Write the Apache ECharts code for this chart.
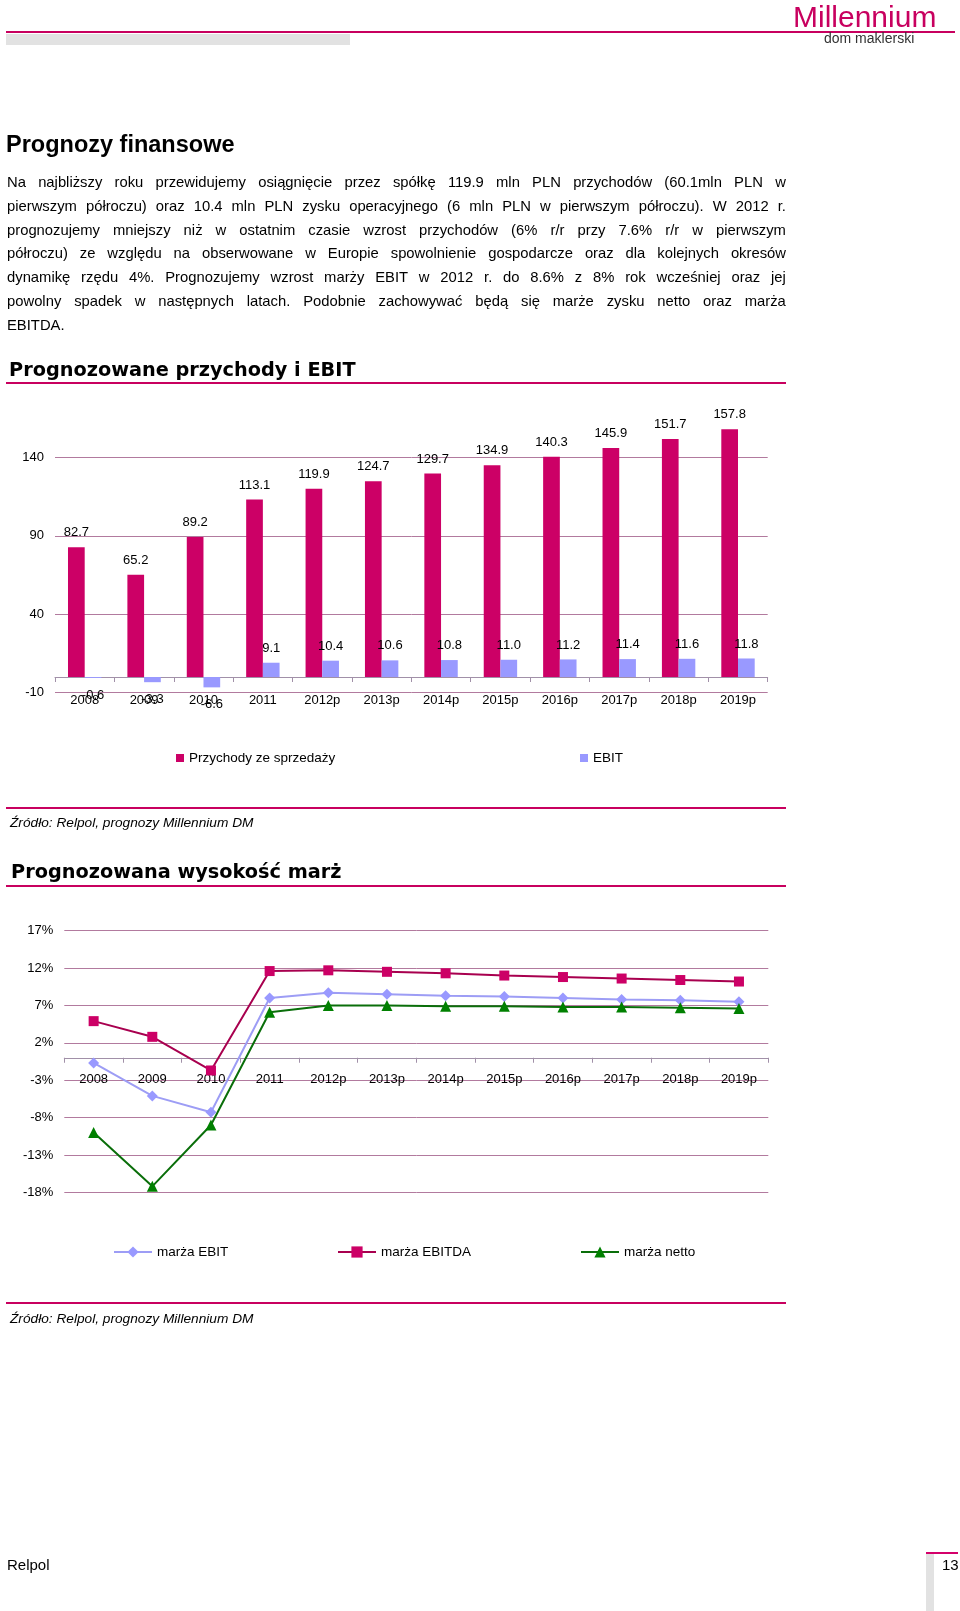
<!DOCTYPE html>
<html><head><meta charset="utf-8">
<script src="https://cdn.jsdelivr.net/npm/echarts@6/dist/echarts.min.js"></script>
<style>
html,body{margin:0;padding:0;background:#fff;}
body{width:960px;height:1611px;position:relative;overflow:hidden;font-family:"Liberation Sans",Arial,sans-serif;color:#000;}
#chart{position:absolute;left:0;top:0;width:960px;height:1611px;}
.t{position:absolute;white-space:nowrap;}
.bar{position:absolute;}
.pl{display:flex;justify-content:space-between;position:absolute;left:7px;width:779px;height:24px;line-height:24px;font-size:14.8px;white-space:nowrap;}
.pl.last{justify-content:flex-start;}
.pl.last span{margin-right:4.1px;}
.h2{font-family:"DejaVu Sans",sans-serif;font-weight:bold;font-size:19.3px;line-height:24px;height:24px;}
.src{font-style:italic;font-size:13.7px;line-height:16px;height:16px;}
</style></head>
<body>
<div id="chart"></div>

<!-- header -->
<div class="bar" style="left:6px;top:31px;width:949px;height:2px;background:#C8005F;"></div>
<div class="bar" style="left:6px;top:34px;width:344px;height:11px;background:#E2E2E2;"></div>
<div class="t" style="left:793px;top:2px;font-size:30px;line-height:30px;color:#C8005F;">Millennium</div>
<div class="t" style="left:824px;top:30px;font-size:14px;line-height:16px;color:#333;">dom maklerski</div>

<div class="t" style="left:6px;top:130px;font-size:23.5px;line-height:28px;font-weight:bold;">Prognozy finansowe</div>
<div id="para"></div>

<div class="t h2" style="left:9px;top:358px;">Prognozowane przychody i EBIT</div>
<div class="bar" style="left:6px;top:382px;width:780px;height:2px;background:#C8005F;"></div>

<div class="bar" style="left:6px;top:807px;width:780px;height:2px;background:#C8005F;"></div>
<div class="t src" style="left:10px;top:815px;">Źródło: Relpol, prognozy Millennium DM</div>

<div class="t h2" style="left:11px;top:860px;">Prognozowana wysokość marż</div>
<div class="bar" style="left:6px;top:885px;width:780px;height:2px;background:#C8005F;"></div>

<div class="bar" style="left:6px;top:1302px;width:780px;height:2px;background:#C8005F;"></div>
<div class="t src" style="left:10px;top:1311px;">Źródło: Relpol, prognozy Millennium DM</div>

<!-- footer -->
<div class="t" style="left:7px;top:1556px;font-size:15px;line-height:18px;">Relpol</div>
<div class="bar" style="left:926px;top:1552px;width:32px;height:2px;background:#D4006A;"></div>
<div class="bar" style="left:926px;top:1554px;width:8px;height:57px;background:#E2E2E2;"></div>
<div class="t" style="left:942px;top:1556px;font-size:15px;line-height:18px;">13</div>

<script>
// ---------- text ----------
const paragraphLines = [
  'Na najbliższy roku przewidujemy osiągnięcie przez spółkę 119.9 mln PLN przychodów (60.1mln PLN w',
  'pierwszym półroczu) oraz 10.4 mln PLN zysku operacyjnego (6 mln PLN w pierwszym półroczu). W 2012 r.',
  'prognozujemy mniejszy niż w ostatnim czasie wzrost przychodów (6% r/r przy 7.6% r/r w pierwszym',
  'półroczu) ze względu na obserwowane w Europie spowolnienie gospodarcze oraz dla kolejnych okresów',
  'dynamikę rzędu 4%. Prognozujemy wzrost marży EBIT w 2012 r. do 8.6% z 8% rok wcześniej oraz jej',
  'powolny spadek w następnych latach. Podobnie zachowywać będą się marże zysku netto oraz marża',
  'EBITDA.'
];

// ---------- data ----------
const years = ['2008','2009','2010','2011','2012p','2013p','2014p','2015p','2016p','2017p','2018p','2019p'];
const revenue = [82.7, 65.2, 89.2, 113.1, 119.9, 124.7, 129.7, 134.9, 140.3, 145.9, 151.7, 157.8];
const ebit = [-0.6, -3.3, -6.6, 9.1, 10.4, 10.6, 10.8, 11.0, 11.2, 11.4, 11.6, 11.8];
const yTicks1 = [-10, 40, 90, 140];

const marzaEbit = [-0.7, -5.1, -7.3, 8.0, 8.7, 8.5, 8.3, 8.2, 8.0, 7.8, 7.7, 7.5];
const marzaEbitda = [4.9, 2.8, -1.7, 11.6, 11.7, 11.5, 11.3, 11.0, 10.8, 10.6, 10.4, 10.2];
const marzaNetto = [-10.0, -17.2, -9.0, 6.1, 7.0, 7.0, 6.9, 6.9, 6.8, 6.8, 6.7, 6.6];
const yTicks2 = [-18, -13, -8, -3, 2, 7, 12, 17];

const seriesNames1 = ['Przychody ze sprzedaży', 'EBIT'];
const seriesNames2 = ['marża EBIT', 'marża EBITDA', 'marża netto'];

// paragraph
const para = document.getElementById('para');
paragraphLines.forEach((ln, i) => {
  const d = document.createElement('div');
  d.className = 'pl' + (i === paragraphLines.length - 1 ? ' last' : '');
  d.style.top = (181.9 + i * 23.82 - 12) + 'px';
  ln.split(' ').forEach(w => { const s = document.createElement('span'); s.textContent = w; d.appendChild(s); });
  para.appendChild(d);
});

// ---------- chart ----------
const FONT = '"Liberation Sans", Arial, sans-serif';
const GRID_C = '#B27A9E';
const AXIS_C = '#A190A8';
const chart = echarts.init(document.getElementById('chart'), null, {renderer: 'canvas'});

const legendBase = {
  orient: 'horizontal', padding: 0, selectedMode: false,
  textStyle: {fontFamily: FONT, fontSize: 13.5, color: '#000'}
};

chart.setOption({
  animation: false,
  backgroundColor: 'transparent',
  grid: [
    {left: 55, top: 410.2, width: 712.7, height: 282.5, containLabel: false},
    {left: 64.3, top: 930.7, width: 704, height: 261.6, containLabel: false}
  ],
  legend: [
    Object.assign({}, legendBase, {data: [seriesNames1[0]], left: 176, top: 751, itemWidth: 8, itemHeight: 8, icon: 'rect'}),
    Object.assign({}, legendBase, {data: [seriesNames1[1]], left: 580, top: 751, itemWidth: 8, itemHeight: 8, icon: 'rect'}),
    Object.assign({}, legendBase, {data: [seriesNames2[0]], left: 113, top: 1245, itemWidth: 38, itemHeight: 14}),
    Object.assign({}, legendBase, {data: [seriesNames2[1]], left: 337, top: 1245, itemWidth: 38, itemHeight: 14}),
    Object.assign({}, legendBase, {data: [seriesNames2[2]], left: 580, top: 1245, itemWidth: 38, itemHeight: 14})
  ],
  xAxis: [
    {type: 'category', gridIndex: 0, data: years, boundaryGap: true,
     axisLine: {show: true, onZero: true, lineStyle: {color: AXIS_C, width: 1}},
     axisTick: {show: true, length: 5, lineStyle: {color: AXIS_C}},
     axisLabel: {interval: 0, margin: 1.6, fontSize: 13, color: '#000', fontFamily: FONT},
     splitLine: {show: false}},
    {type: 'category', gridIndex: 1, data: years, boundaryGap: true,
     axisLine: {show: true, onZero: true, lineStyle: {color: AXIS_C, width: 1}},
     axisTick: {show: true, length: 5, lineStyle: {color: AXIS_C}},
     axisLabel: {interval: 0, margin: -119, fontSize: 13, color: '#000', fontFamily: FONT},
     splitLine: {show: false}}
  ],
  yAxis: [
    {type: 'value', gridIndex: 0, min: -10, max: 170,
     axisLine: {show: false},
     axisTick: {show: false, customValues: yTicks1},
     axisLabel: {customValues: yTicks1, margin: 11, fontSize: 13, color: '#000', fontFamily: FONT},
     splitLine: {show: true, lineStyle: {color: GRID_C, width: 1}}},
    {type: 'value', gridIndex: 1, min: -18, max: 17,
     axisLine: {show: false},
     axisTick: {show: false, customValues: yTicks2},
     axisLabel: {customValues: yTicks2, margin: 11, fontSize: 13, color: '#000', fontFamily: FONT,
                 formatter: v => v + '%'},
     splitLine: {show: true, lineStyle: {color: GRID_C, width: 1}}}
  ],
  series: [
    {name: seriesNames1[0], type: 'bar', xAxisIndex: 0, yAxisIndex: 0, data: revenue,
     barWidth: 16.7, barGap: '0%', itemStyle: {color: '#CC0066'},
     label: {show: true, position: 'top', distance: 8, fontSize: 13, color: '#000', fontFamily: FONT,
             formatter: p => p.value.toFixed(1)}},
    {name: seriesNames1[1], type: 'bar', xAxisIndex: 0, yAxisIndex: 0,
     data: ebit.map(v => ({value: v, label: {position: v < 0 ? 'bottom' : 'top', distance: v < 0 ? 11 : 8}})),
     barWidth: 16.7, barGap: '0%', itemStyle: {color: '#9999FF'},
     label: {show: true, fontSize: 13, color: '#000', fontFamily: FONT,
             formatter: p => p.value.toFixed(1)}},
    {name: seriesNames2[0], type: 'line', xAxisIndex: 1, yAxisIndex: 1, data: marzaEbit,
     symbol: 'diamond', symbolSize: 11, itemStyle: {color: '#9999FF'},
     lineStyle: {color: '#9D9DF5', width: 2}},
    {name: seriesNames2[1], type: 'line', xAxisIndex: 1, yAxisIndex: 1, data: marzaEbitda,
     symbol: 'rect', symbolSize: 10, itemStyle: {color: '#CC0066'},
     lineStyle: {color: '#A8004F', width: 2}},
    {name: seriesNames2[2], type: 'line', xAxisIndex: 1, yAxisIndex: 1, data: marzaNetto,
     symbol: 'triangle', symbolSize: 11, itemStyle: {color: '#008000'},
     lineStyle: {color: '#0A6E0A', width: 2}}
  ]
});
</script>
</body></html>
